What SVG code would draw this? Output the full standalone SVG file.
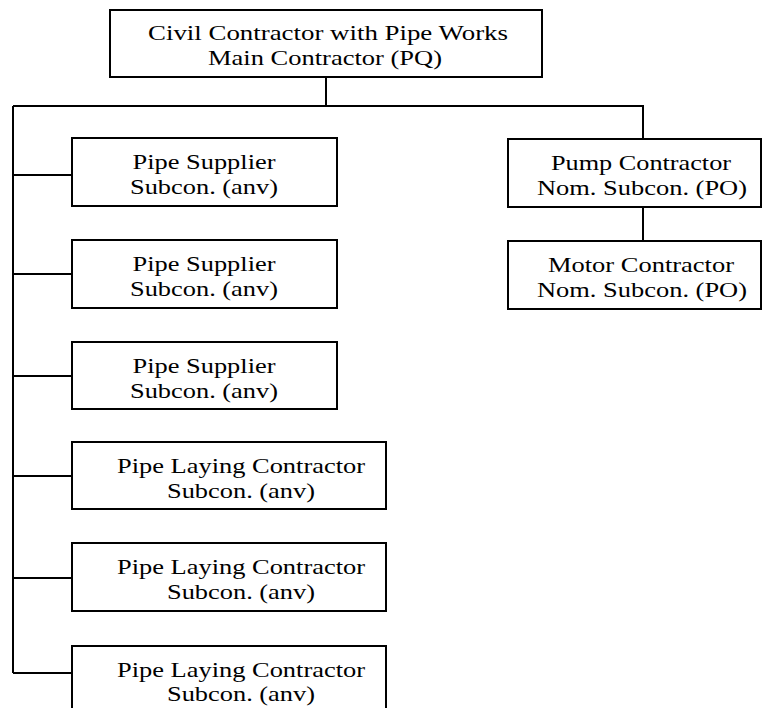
<svg xmlns="http://www.w3.org/2000/svg" width="763" height="708" viewBox="0 0 763 708">
  <style>
    .box { fill: #ffffff; stroke: #000000; stroke-width: 2; }
    .wire { fill: none; stroke: #000000; stroke-width: 2; }
    .lbl { font-family: "Liberation Serif", "Times New Roman", serif; font-size: 22px; fill: #000000; text-anchor: middle; }
  </style>
  <rect width="763" height="708" fill="#ffffff"/>

  <!-- connectors -->
  <g id="connectors" class="wire">
    <path d="M326 77 V106"/>
    <path d="M13 106 H643 V139"/>
    <path d="M13 106 V673"/>
    <path d="M13 175 H72"/>
    <path d="M13 274 H72"/>
    <path d="M13 376 H72"/>
    <path d="M13 476 H72"/>
    <path d="M13 578 H72"/>
    <path d="M13 673 H72"/>
    <path d="M643 207 V241"/>
  </g>

  <!-- main contractor -->
  <g id="main">
    <rect class="box" x="110" y="10" width="432" height="67"/>
    <text class="lbl" x="328" y="40" textLength="360" lengthAdjust="spacingAndGlyphs">Civil Contractor with Pipe Works</text>
    <text class="lbl" x="325" y="64.5" textLength="234" lengthAdjust="spacingAndGlyphs">Main Contractor (PQ)</text>
  </g>

  <!-- pipe suppliers -->
  <g id="supplier1">
    <rect class="box" x="72" y="138" width="265" height="68"/>
    <text class="lbl" x="204" y="169" textLength="143" lengthAdjust="spacingAndGlyphs">Pipe Supplier</text>
    <text class="lbl" x="204" y="194" textLength="148" lengthAdjust="spacingAndGlyphs">Subcon. (anv)</text>
  </g>
  <g id="supplier2">
    <rect class="box" x="72" y="240" width="265" height="68"/>
    <text class="lbl" x="204" y="271" textLength="143" lengthAdjust="spacingAndGlyphs">Pipe Supplier</text>
    <text class="lbl" x="204" y="296" textLength="148" lengthAdjust="spacingAndGlyphs">Subcon. (anv)</text>
  </g>
  <g id="supplier3">
    <rect class="box" x="72" y="342" width="265" height="67"/>
    <text class="lbl" x="204" y="373" textLength="143" lengthAdjust="spacingAndGlyphs">Pipe Supplier</text>
    <text class="lbl" x="204" y="398" textLength="148" lengthAdjust="spacingAndGlyphs">Subcon. (anv)</text>
  </g>

  <!-- pipe laying contractors -->
  <g id="laying1">
    <rect class="box" x="72" y="442" width="314" height="67"/>
    <text class="lbl" x="241" y="473" textLength="248" lengthAdjust="spacingAndGlyphs">Pipe Laying Contractor</text>
    <text class="lbl" x="241" y="498" textLength="148" lengthAdjust="spacingAndGlyphs">Subcon. (anv)</text>
  </g>
  <g id="laying2">
    <rect class="box" x="72" y="543" width="314" height="68"/>
    <text class="lbl" x="241" y="574" textLength="248" lengthAdjust="spacingAndGlyphs">Pipe Laying Contractor</text>
    <text class="lbl" x="241" y="599" textLength="148" lengthAdjust="spacingAndGlyphs">Subcon. (anv)</text>
  </g>
  <g id="laying3">
    <rect class="box" x="72" y="646" width="314" height="68"/>
    <text class="lbl" x="241" y="677" textLength="248" lengthAdjust="spacingAndGlyphs">Pipe Laying Contractor</text>
    <text class="lbl" x="241" y="701" textLength="148" lengthAdjust="spacingAndGlyphs">Subcon. (anv)</text>
  </g>

  <!-- nominated subcontractors -->
  <g id="pump">
    <rect class="box" x="508" y="139" width="253" height="68"/>
    <text class="lbl" x="641" y="170" textLength="180" lengthAdjust="spacingAndGlyphs">Pump Contractor</text>
    <text class="lbl" x="642" y="195" textLength="210" lengthAdjust="spacingAndGlyphs">Nom. Subcon. (PO)</text>
  </g>
  <g id="motor">
    <rect class="box" x="508" y="241" width="253" height="68"/>
    <text class="lbl" x="641" y="272" textLength="186" lengthAdjust="spacingAndGlyphs">Motor Contractor</text>
    <text class="lbl" x="642" y="297" textLength="210" lengthAdjust="spacingAndGlyphs">Nom. Subcon. (PO)</text>
  </g>
</svg>
